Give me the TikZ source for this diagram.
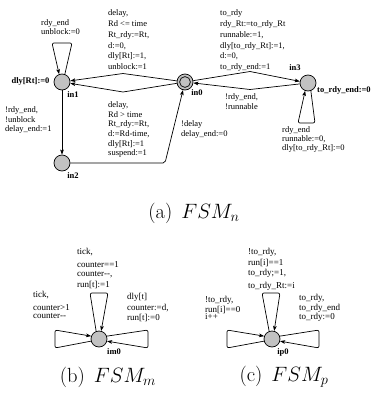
\documentclass[tikz,border=0pt]{standalone}
\usepackage{fontspec}
\newfontfamily\tnr{Liberation Serif}
\usetikzlibrary{arrows.meta}
\begin{document}
\begin{tikzpicture}[x=1pt,y=-1pt,
  st/.style={circle,draw=black,fill=black!24,minimum size=16pt,inner sep=0pt,line width=0.7pt},
  lab/.style={font=\tnr\fontsize{8.5}{#1}\selectfont,align=left,anchor=north west,inner sep=0pt},
  lab/.default=10,
  labm/.style={font=\tnr\fontsize{9}{#1}\selectfont,align=left,anchor=north west,inner sep=0pt},
  labm/.default=10,
  bl/.style={font=\tnr\bfseries\fontsize{8.5}{10}\selectfont,inner sep=0pt},
  tr/.style={line width=0.7pt,-{Stealth[length=5pt,width=3.6pt,inset=1pt]}},
  lp/.style={tr,rounded corners=2pt},
  captxt/.style={font=\fontsize{20.5}{24}\selectfont,inner sep=0pt}]
\useasboundingbox (0,0) rectangle (373,402);

% ---------- FSM_n ----------
\node[st] (in1) at (62,82) {};
\node[st] (in0) at (185,82) {};
\draw[line width=0.7pt] (in0.center) circle (5.4pt);
\node[st] (in3) at (308,83) {};
\node[st] (in2) at (62,163) {};

\coordinate (u1) at (123,73.5);
\coordinate (l1) at (123,92);
\coordinate (c2) at (165,163);
\coordinate (u3) at (250,71.5);
\coordinate (l3) at (250,89.5);
\coordinate (s1a) at (72,43);
\coordinate (s1b) at (52,43);
\coordinate (s3a) at (315,123);
\coordinate (s3b) at (298,123);

\draw[tr] (in0) -- (u1) -- (in1);
\draw[tr] (in0) -- (l1) -- (in1);
\draw[tr] (in1) -- (in2);
\draw[tr,rounded corners=2pt] (in2) -- (c2) -- (in0);
\draw[tr] (in0) -- (u3) -- (in3);
\draw[tr] (in3) -- (l3) -- (in0);
\draw[lp] (in1.70) -- (s1a) -- (s1b) -- (in1.110);
\draw[lp] (in3.-70) -- (s3a) -- (s3b) -- (in3.-110);

\node[lab=9.5] (t1) at (41,19) {rdy\_end\\unblock:=0};
\node[lab=10.8] (t2) at (108,9.5) {delay,\\Rd <= time\\Rt\_rdy:=Rt,\\d:=0,\\dly[Rt]:=1,\\unblock:=1};
\node[bl] (t3) at (30.5,81) {dly[Rt]:=0};
\node[bl] (t4) at (73,95) {in1};
\node[lab=9.6] (t5) at (5,106.5) {!rdy\_end,\\!unblock\\delay\_end:=1};
\node[lab=9.6] (t6) at (108,101.5) {delay,\\Rd > time\\Rt\_rdy:=Rt,\\d:=Rd-time,\\dly[Rt]:=1\\suspend:=1};
\node[bl] (t7) at (73,176) {in2};
\node[lab=10] (t8) at (181,120.5) {!delay\\delay\_end:=0};
\node[bl] (t9) at (197,93) {in0};
\node[lab=10.8] (t10) at (220,9.5) {to\_rdy\\rdy\_Rt:=to\_rdy\_Rt\\runnable:=1,\\dly[to\_rdy\_Rt]:=1,\\d:=0,\\to\_rdy\_end:=1};
\node[lab=10] (t11) at (225,93.5) {!rdy\_end,\\!runnable};
\node[bl] (t12) at (295,68) {in3};
\node[bl,anchor=west] (t13) at (317,90) {to\_rdy\_end:=0};
\node[lab=9] (t14) at (282,126.5) {rdy\_end\\runnable:=0,\\dly[to\_rdy\_Rt]:=0};

\node[captxt] (ca) at (194,213) {(a)\hspace{9pt}$FSM_n$};

% ---------- FSM_m ----------
\node[st] (im0) at (99,339) {};
\draw[lp] (im0.110) -- (90,293) -- (108,293) -- (im0.75);
\draw[lp] (im0.195) -- (55,348) -- (55,330) -- (im0.160);
\draw[lp] (im0.20) -- (148,330) -- (148,348) -- (im0.-15);
\node[bl] (m1) at (114,352) {im0};
\node[labm=8.5] (m2) at (77,248.5) {tick,\\[4.5pt]counter==1\\counter-{}-,\\[3pt]run[t]:=1};
\node[labm=8] (m3) at (33,291.5) {tick,\\[4.5pt]counter>1\\counter-{}-};
\node[labm=10.5] (m4) at (127,293.5) {dly[t]\\counter:=d,\\run[t]:=0};
\node[captxt] (cb) at (108,377) {(b)\hspace{9pt}$FSM_m$};

% ---------- FSM_p ----------
\node[st] (ip0) at (272,339) {};
\draw[lp] (ip0.110) -- (262,293) -- (280,293) -- (ip0.75);
\draw[lp] (ip0.195) -- (227,348) -- (227,330) -- (ip0.160);
\draw[lp] (ip0.20) -- (319,330) -- (319,348) -- (ip0.-15);
\node[bl] (p1) at (283,352) {ip0};
\node[labm=9.5] (p2) at (248,248.5) {!to\_rdy,\\[1.5pt]run[i]==1\\to\_rdy;=1,\\[3.5pt]to\_rdy\_Rt:=i};
\node[labm=7.8] (p3) at (205,296.5) {!to\_rdy,\\run[i]==0\\i++};
\node[labm=9.5] (p4) at (299,294.5) {to\_rdy,\\to\_rdy\_end\\to\_rdy:=0};
\node[captxt] (cc) at (284,377) {(c)\hspace{9pt}$FSM_p$};
\end{tikzpicture}
\end{document}
